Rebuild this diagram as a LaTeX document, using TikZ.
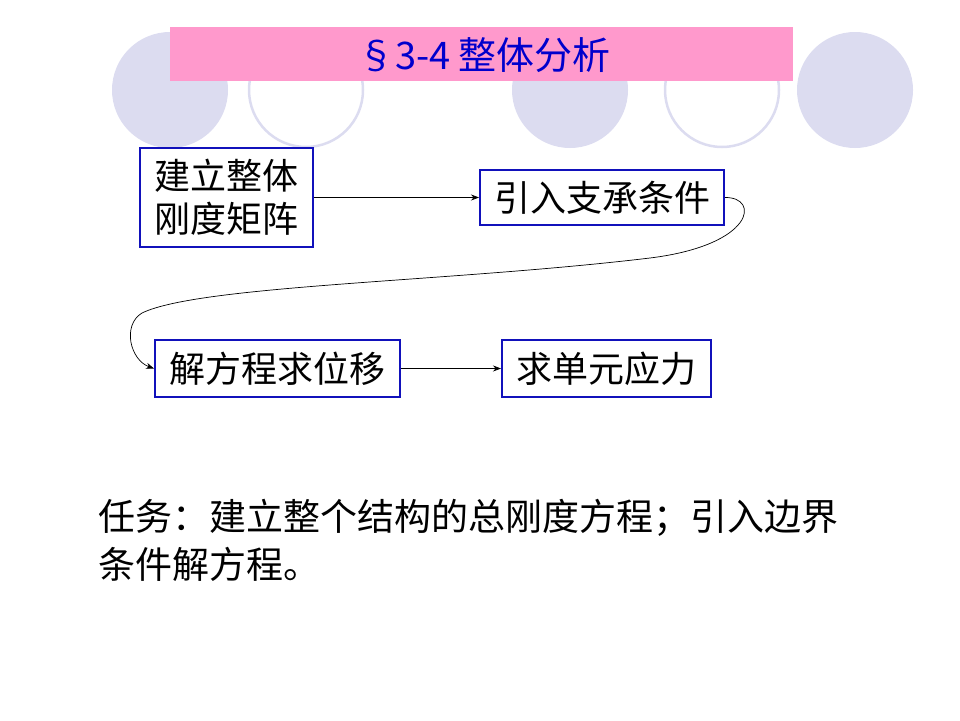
\documentclass[tikz,border=0pt]{standalone}
\usepackage{fontspec}
\newfontfamily\cjk{Noto Sans CJK SC}
\usetikzlibrary{arrows.meta}
\definecolor{lav}{HTML}{DCDCF0}
\definecolor{pinkbar}{HTML}{FF99CC}
\definecolor{boxblue}{HTML}{1111BB}
\definecolor{titleblue}{HTML}{0000CC}
\begin{document}
\begin{tikzpicture}[x=1pt,y=-1pt,
  disc/.style={fill=lav},
  ring/.style={draw=lav, line width=2.5pt, fill=white},
  stepbox/.style={draw=boxblue, line width=2pt, inner sep=0pt, align=center,
    font=\cjk\fontsize{36}{43}\selectfont},
  conn/.style={-{Stealth[length=8pt,width=6pt]}, line width=0.7pt}]
\useasboundingbox (0,0) rectangle (960,720);
% decorative circles
\fill[disc] (170,90) circle (58);
\draw[ring] (306,90) circle (57);
\fill[disc] (570,90) circle (58);
\draw[ring] (722,90) circle (57);
\fill[disc] (855,90) circle (58);
% title bar
\fill[pinkbar] (170,27) rectangle (793,81);
\node[text=titleblue, font=\cjk\fontsize{38}{40}\selectfont] (title) at (484,55) {§3-4 整体分析};
% boxes
\node[stepbox, minimum width=173pt, minimum height=99pt] (a) at (226.5,197.5) {建立整体\\刚度矩阵};
\node[stepbox, minimum width=244pt, minimum height=55pt] (b) at (602,197.5) {引入支承条件};
\node[stepbox, minimum width=245pt, minimum height=57pt] (c) at (277.5,368.5) {解方程求位移};
\node[stepbox, minimum width=209pt, minimum height=57pt] (d) at (606.5,368.5) {求单元应力};
% connectors
\draw[conn] (a.east) -- (b.west);
\draw[conn] (c.east) -- (d.west);
\draw[conn] (b.east) .. controls (760,197) and (755,245) .. (650,258)
  .. controls (450,282) and (200,285) .. (142,313)
  .. controls (122,325) and (130,360) .. (c.west);
% task text
\node[anchor=north west, align=left, inner sep=0pt, font=\cjk\fontsize{37}{48}\selectfont] (task) at (98,499)
  {任务：建立整个结构的总刚度方程；引入边界\\条件解方程。};
\end{tikzpicture}
\end{document}
